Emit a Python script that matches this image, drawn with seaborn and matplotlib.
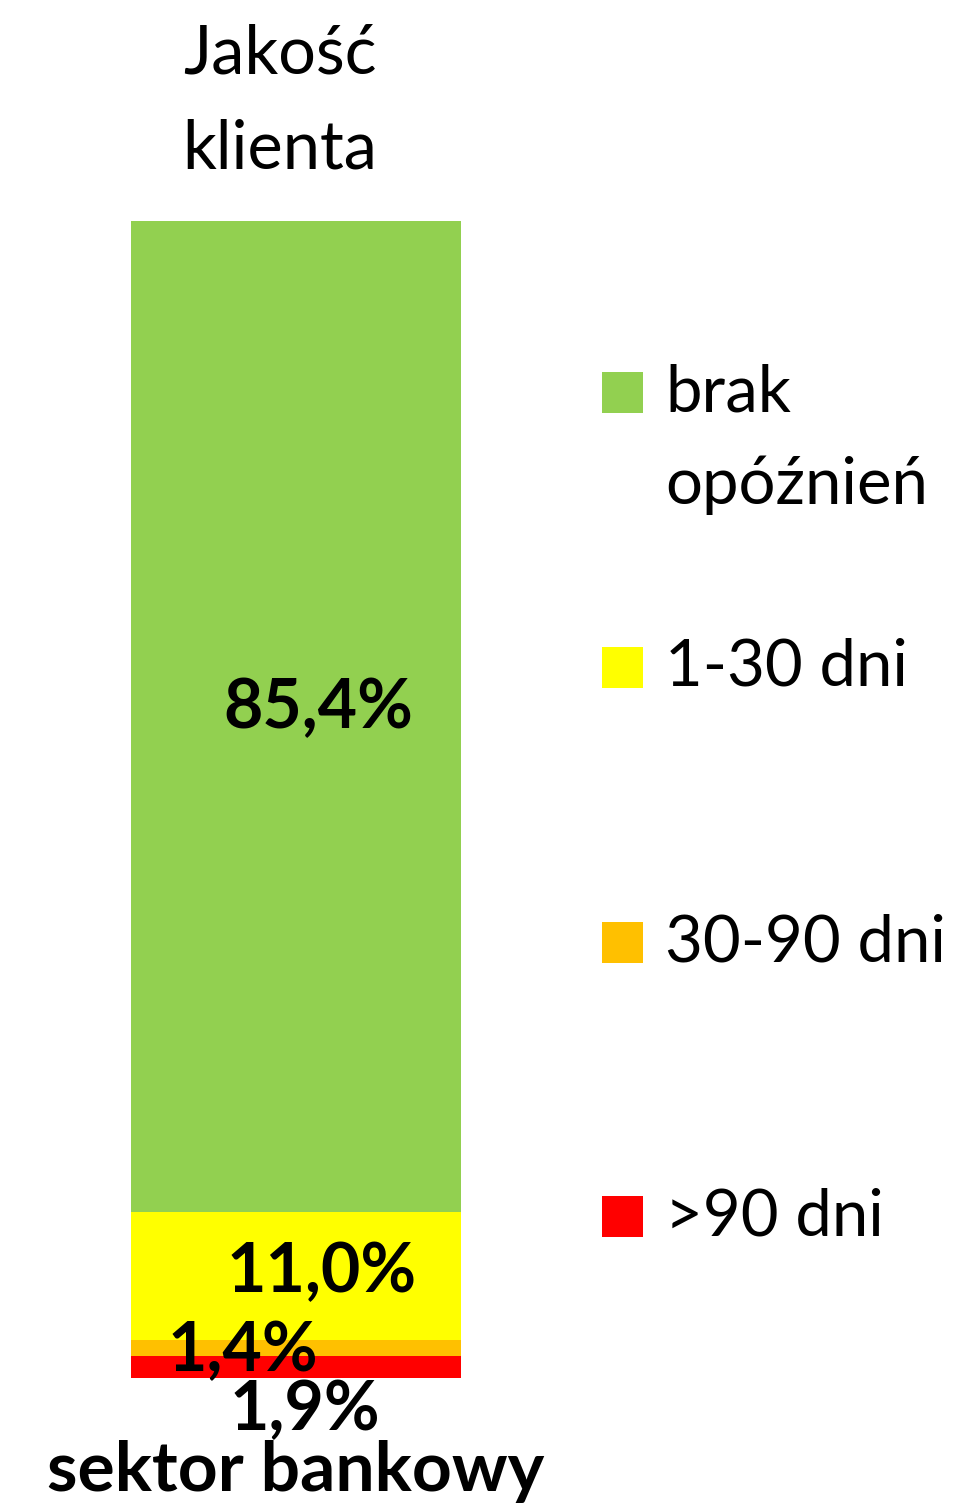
import numpy as np
import pandas as pd
import matplotlib
matplotlib.use("Agg")
import matplotlib.pyplot as plt
import seaborn as sns
from matplotlib.patches import Rectangle

# data
categories = ["brak\nopóźnień", "1-30 dni", "30-90 dni", ">90 dni"]
values = [85.4, 11.0, 1.4, 1.9]
labels = ["85,4%", "11,0%", "1,4%", "1,9%"]
colors = ["#92D050", "#FFFF00", "#FFC000", "#FF0000"]
bar_name = "sektor bankowy"
title = "Jakość\nklienta"

sns.set_theme(style="white")
plt.rcParams["font.family"] = ["Lato", "DejaVu Sans"]

W, H = 958, 1507
fig = plt.figure(figsize=(W / 100, H / 100), dpi=100)
ax = fig.add_axes([131 / W, (H - 1378) / H, 330 / W, 1157 / H])

# stacked bar: draw cumulative heights from the top layer down
tops = np.cumsum(values[::-1])[::-1]
for top, col in zip(tops, colors):
    df = pd.DataFrame({"grupa": [bar_name], "udzial": [top]})
    sns.barplot(data=df, x="grupa", y="udzial", color=col, width=0.8,
                saturation=1, linewidth=0, ax=ax)

ax.set_xlim(-0.4, 0.4)
ax.set_ylim(0, tops[0])
ax.axis("off")

# value labels (x offsets roughly as in the original)
bottoms = tops - np.array(values)
offsets = [0.053, 0.063, -0.13, 0.021]
yshift = [0.7, 0.3, -0.3, -3.8]
for v, lab, b, dx, dy in zip(values, labels, bottoms, offsets, yshift):
    ax.text(dx, b + v / 2 + dy, lab, ha="center", va="center",
            fontsize=49, fontweight="bold", color="black", clip_on=False)

ax.text(0, -8.05, bar_name, ha="center", va="center", fontsize=50,
        fontweight="bold", color="black", clip_on=False)

fig.text(280 / W, 1 - 102 / H, title, ha="center", va="center",
         fontsize=48, linespacing=1.66, color="black")

# legend
ys = [393, 668, 943, 1217]
for cat, col, y in zip(categories, colors, ys):
    fig.patches.append(Rectangle((602 / W, 1 - (y + 20) / H), 41 / W, 41 / H,
                                 transform=fig.transFigure, color=col, lw=0))
    fig.text(665 / W, 1 - (y - 30) / H, cat, ha="left", va="top",
             fontsize=47, linespacing=1.7, color="black")

fig.savefig("out.png", dpi=100)
